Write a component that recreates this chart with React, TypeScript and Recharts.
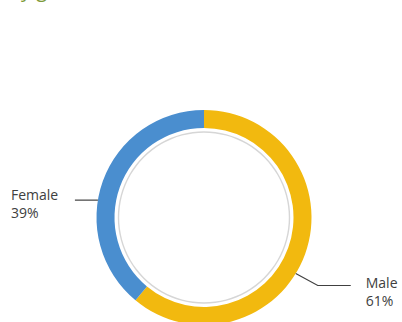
import { PieChart, Pie, Cell } from 'recharts';

const genders = ['Male', 'Female'];
const shares = [61, 39];
const colors = ['#F2B90F', '#4A8ECF'];
const title = 'By gender';

const data = genders.map((name, i) => ({ name, value: shares[i] }));
const ring = [{ name: 'ring', value: 1 }];

// nudge the leader-line anchor a bit off the mid angle, like the original
const labelShift = [-11.6, 10.5];
const RAD = Math.PI / 180;

const renderLabel = (props: any) => {
  const { cx, cy, outerRadius, midAngle, index, name, value } = props;
  const a = (midAngle + labelShift[index]) * RAD;
  const sx = cx + outerRadius * Math.cos(a);
  const sy = cy - outerRadius * Math.sin(a);
  const right = Math.cos(a) >= 0;
  let points: string;
  let tx: number;
  let ty: number;
  if (right) {
    const mx = sx + 22;
    const my = sy + 12;
    const ex = mx + 33;
    points = `${sx},${sy} ${mx},${my} ${ex},${my}`;
    tx = ex + 15;
    ty = my + 2;
  } else {
    const ex = sx - 23;
    points = `${sx},${sy} ${ex},${sy}`;
    tx = ex - 64;
    ty = sy;
  }
  return (
    <g>
      <polyline points={points} fill="none" stroke="#404040" strokeWidth={1.2} />
      <text x={tx} y={ty} fill="#404040" fontSize={14} fontFamily="Open Sans">
        <tspan x={tx} dy={0}>{name}</tspan>
        <tspan x={tx} dy={18}>{value}%</tspan>
      </text>
    </g>
  );
};

const App = () => {
  return (
    <div style={{ position: 'absolute', left: 0, top: 0, width: 402, height: 322, background: '#fff' }}>
      <svg width={402} height={322} style={{ position: 'absolute', left: 0, top: 0 }}>
        <text x={8} y={-3} fill="#7D9A3A" fontSize={20} fontFamily="Open Sans">{title}</text>
      </svg>
      <div style={{ position: 'absolute', left: 0, top: 0 }}>
        <PieChart width={402} height={322} margin={{ top: 0, right: 0, bottom: 0, left: 0 }}>
          <Pie
            data={ring}
            dataKey="value"
            cx={204}
            cy={217.5}
            innerRadius={84.8}
            outerRadius={86.2}
            startAngle={90}
            endAngle={-270}
            stroke="none"
            fill="#D6D6D6"
            isAnimationActive={false}
          />
          <Pie
            data={data}
            dataKey="value"
            cx={204}
            cy={217.5}
            innerRadius={89.5}
            outerRadius={107.5}
            startAngle={90}
            endAngle={-270}
            stroke="none"
            label={renderLabel}
            labelLine={false}
            isAnimationActive={false}
          >
            {data.map((d, i) => (
              <Cell key={d.name} fill={colors[i]} />
            ))}
          </Pie>
        </PieChart>
      </div>
    </div>
  );
};

export default App;
